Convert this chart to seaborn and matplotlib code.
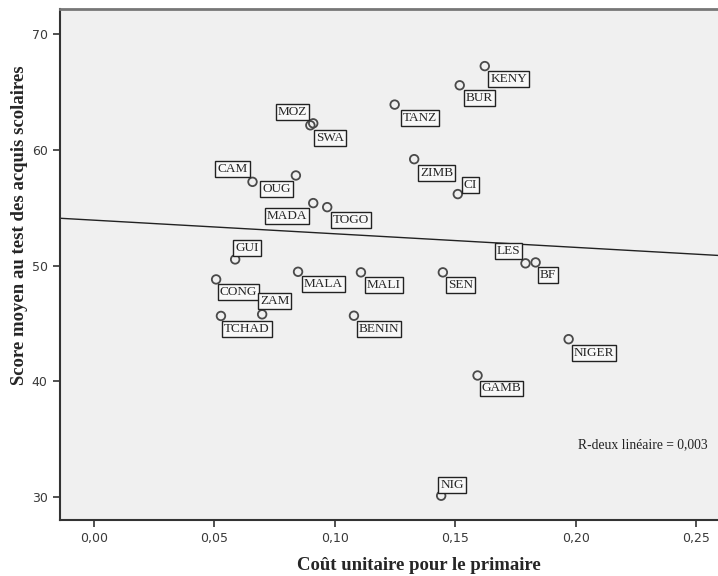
import numpy as np
import pandas as pd
import matplotlib
matplotlib.use("Agg")
import matplotlib.pyplot as plt
import seaborn as sns
from matplotlib.ticker import MultipleLocator, FuncFormatter

# données
pays = ["KENY", "BUR", "TANZ", "ZIMB", "CI", "MOZ", "SWA", "CAM", "OUG", "MADA",
        "TOGO", "GUI", "CONG", "TCHAD", "ZAM", "MALA", "MALI", "BENIN", "LES", "BF",
        "SEN", "NIGER", "GAMB", "NIG"]
cout = [0.1622, 0.1518, 0.1248, 0.1329, 0.1510, 0.0898, 0.0910, 0.0658, 0.0838, 0.0910,
        0.0968, 0.0586, 0.0507, 0.0527, 0.0698, 0.0847, 0.1108, 0.1079, 0.1791, 0.1833,
        0.1448, 0.1970, 0.1592, 0.1441]
score = [67.26, 65.60, 63.93, 59.21, 56.19, 62.14, 62.31, 57.25, 57.80, 55.41,
         55.06, 50.54, 48.81, 45.65, 45.79, 49.47, 49.42, 45.67, 50.20, 50.28,
         49.42, 43.64, 40.50, 30.10]

# position des étiquettes (pixels, par rapport au point)
dx = [24, 19.5, 25, 22.5, 12.5, -18, 17, -20, -19.5, -26,
      24, 12, 22.5, 26, 12.5, 25.5, 23, 25, -17, 12.5,
      18, 25.5, 24, 11]
dy = [-12.5, -13, -13, -13.5, 9.5, 13, -15, 12.5, -13.5, -13,
      -13, 11.5, -13, -13, 13.5, -12, -12.5, -13, 12.5, -13,
      -13, -13.5, -13, 11]

df = pd.DataFrame({"pays": pays, "cout": cout, "score": score})

sns.set_theme(style="white")
plt.rcParams["font.family"] = ["DejaVu Sans"]

fig = plt.figure(figsize=(7.18, 5.76), dpi=100)
ax = fig.add_axes([0.0829, 0.0972, 0.9171, 0.8872])
ax.set_facecolor("#f0f0f0")
ax.set_xlim(-0.0143, 0.259)
ax.set_ylim(28.0, 72.2)

sns.regplot(data=df, x="cout", y="score", scatter=False, ci=None, truncate=False,
            line_kws=dict(color="#222222", lw=1), ax=ax)
sns.scatterplot(data=df, x="cout", y="score", marker="o", s=38, color="none",
                edgecolor="#4a4a4a", linewidth=1.3, ax=ax, zorder=3)

for p, x, y, ox, oy in zip(pays, cout, score, dx, dy):
    ax.annotate(p, (x, y), xytext=(ox, oy), textcoords="offset pixels",
                ha="center", va="center", fontsize=9.5, family="Liberation Serif",
                bbox=dict(boxstyle="square,pad=0.15", fc="#f8f8f8", ec="#222222", lw=1),
                zorder=4)

ax.text(0.886, 0.147, "R-deux linéaire = 0,003", transform=ax.transAxes,
        ha="center", va="center", fontsize=9.8, family="Liberation Serif", color="#222222")

ax.xaxis.set_major_locator(MultipleLocator(0.05))
ax.yaxis.set_major_locator(MultipleLocator(10))
ax.xaxis.set_major_formatter(FuncFormatter(lambda v, _: f"{v:.2f}".replace(".", ",")))
ax.yaxis.set_major_formatter(FuncFormatter(lambda v, _: f"{v:.0f}"))
ax.tick_params(axis="both", direction="out", length=5, width=1.2, color="#333333",
               labelsize=9, labelcolor="#3a3a3a", bottom=True, left=True)

for s in ["left", "bottom"]:
    ax.spines[s].set_color("#333333")
    ax.spines[s].set_linewidth(1.5)
ax.spines["top"].set_color("#777777")
ax.spines["top"].set_linewidth(2)
ax.spines["right"].set_visible(False)

ax.set_xlabel("Coût unitaire pour le primaire", fontsize=13.5, fontweight="bold",
              family="Liberation Serif")
ax.set_ylabel("Score moyen au test des acquis scolaires", fontsize=13.5, fontweight="bold",
              family="Liberation Serif")
ax.xaxis.set_label_coords(0.546, -0.072)
ax.yaxis.set_label_coords(-0.048, 0.577)

fig.savefig("out.png", dpi=100)
